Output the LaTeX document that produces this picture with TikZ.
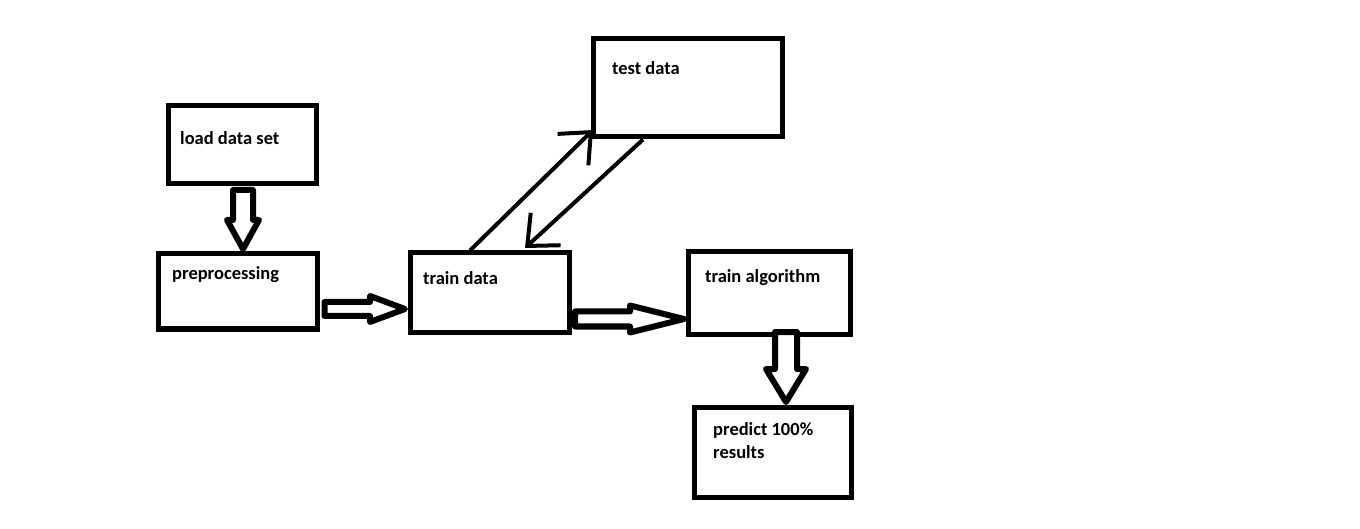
\documentclass[tikz,border=0pt]{standalone}
\usepackage{fontspec}
\setmainfont{Carlito}
\usetikzlibrary{calc, arrows.meta}

\tikzset{
  stage/.style={draw, line width=5pt, inner sep=0pt},
  lbl/.style={anchor=base west, inner sep=0pt, align=left,
              font=\fontsize{18.5}{23}\selectfont\bfseries},
  fat/.style={draw, fill=white, line width=6pt, line join=round},
  link/.style={line width=4pt, -{Straight Barb[length=25pt, width=44pt]}},
}

% hollow block arrow: start, tip, shaft half width, head half width, head length
\newcommand{\fatarrow}[5]{%
  \coordinate (fa-s) at #1;
  \coordinate (fa-t) at #2;
  \coordinate (fa-h) at ($(fa-t)!#5!(fa-s)$);
  \draw[fat] ($(fa-s)!#3!90:(fa-t)$) -- ($(fa-h)!#3!90:(fa-t)$)
    -- ($(fa-h)!#4!90:(fa-t)$) -- (fa-t) -- ($(fa-h)!#4!-90:(fa-t)$)
    -- ($(fa-h)!#3!-90:(fa-t)$) -- ($(fa-s)!#3!-90:(fa-t)$) -- cycle;
}

\begin{document}
\begin{tikzpicture}[x=1pt, y=-1pt]
  \useasboundingbox (0,0) rectangle (1360,529);
  % stages
  \node[stage, minimum width=148pt, minimum height=78pt] (load)  at (242,145)     {};
  \node[stage, minimum width=159pt, minimum height=75pt] (prep)  at (237.5,291.5) {};
  \node[stage, minimum width=159pt, minimum height=79pt] (train) at (489.5,292.5) {};
  \node[stage, minimum width=189pt, minimum height=98pt] (test)  at (687.5,88)    {};
  \node[stage, minimum width=162pt, minimum height=82pt] (algo)  at (769,293)     {};
  \node[stage, minimum width=157pt, minimum height=90pt] (pred)  at (772.5,452)   {};
  % labels, top left in each box (two lines: base is the last line)
  \node[lbl] (load-t)  at (180,145) {load data set};
  \node[lbl] (prep-t)  at (172,280) {preprocessing};
  \node[lbl] (train-t) at (423,285) {train data};
  \node[lbl] (test-t)  at (612,75)  {test data};
  \node[lbl] (algo-t)  at (705,283) {train algorithm};
  \node[lbl] (pred-t)  at (713,458) {predict 100\%\\results};
  % block arrows
  \fatarrow{($(load.south)+(1,3.5)$)}{($(prep.north)+(5.5,-2.5)$)}{10pt}{16pt}{29pt}
  \fatarrow{($(prep.east)+(5,17.5)$)}{($(train.west)+(-2.5,16.5)$)}{7pt}{13pt}{35pt}
  \fatarrow{($(train.east)+(3.5,26.5)$)}{($(algo.west)+(-1.5,26)$)}{7.5pt}{13.5pt}{54pt}
  \fatarrow{($(algo.south)+(17,-4.5)$)}{($(pred.north)+(13.5,-2.5)$)}{11pt}{20pt}{33pt}
  % train <-> test
  \draw[link] ($(train.north)+(-19.5,0)$) -- ($(test.south west)+(2.5,-9.5)$);
  \draw[link] ($(test.south)+(-44.5,0)$) -- ($(train.north)+(35.5,-2.5)$);
\end{tikzpicture}
\end{document}
